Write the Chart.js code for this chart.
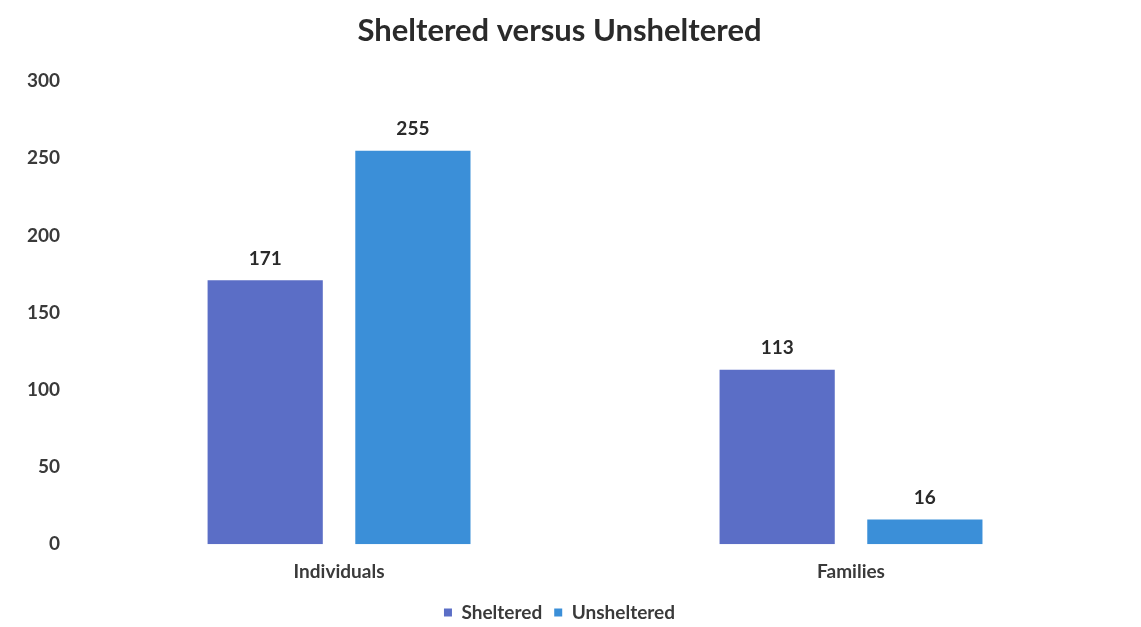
<!DOCTYPE html>
<html>
<head>
<meta charset="utf-8">
<script src="https://cdn.jsdelivr.net/npm/chart.js@4"></script>
<style>
    html, body { margin: 0; padding: 0; background: #fff; }
    #wrap { width: 1141px; height: 627px; }
</style>
</head>
<body>
<div id="wrap"><canvas id="chart"></canvas></div>
<script>
const categorias = ["Individuals", "Families"];
const abrigados = [171, 113];
const semAbrigo = [255, 16];
const series = ["Sheltered", "Unsheltered"];

/* rótulos em cima das barras */
const rotulos = {
    id: "rotulos",
    afterDatasetsDraw(chart) {
        const ctx = chart.ctx;
        ctx.save();
        ctx.font = "bold 19px Lato";
        ctx.fillStyle = "#2a2a2a";
        ctx.textAlign = "center";
        ctx.textBaseline = "bottom";
        chart.data.datasets.forEach((ds, i) => {
            chart.getDatasetMeta(i).data.forEach((bar, j) => {
                ctx.fillText(ds.data[j], bar.x, bar.y - 12);
            });
        });
        ctx.restore();
    }
};

new Chart(document.getElementById("chart"), {
    type: "bar",
    data: {
        labels: categorias,
        datasets: [
            { label: series[0], data: abrigados, backgroundColor: "#5b6ec6" },
            { label: series[1], data: semAbrigo, backgroundColor: "#3b8fd8" }
        ]
    },
    options: {
        responsive: true,
        maintainAspectRatio: false,
        animation: false,
        categoryPercentage: 0.577,
        barPercentage: 0.78,
        layout: { padding: { left: 12, right: 34, top: 2, bottom: -5 } },
        plugins: {
            title: {
                display: true,
                text: "Sheltered versus Unsheltered",
                color: "#2a2a2a",
                font: { family: "Lato", size: 31, weight: "bold" },
                padding: { top: 10, bottom: 32 }
            },
            legend: {
                position: "bottom",
                labels: {
                    color: "#3a3a3a",
                    font: { family: "Lato", size: 19, weight: "bold" },
                    boxWidth: 8,
                    boxHeight: 8,
                    padding: 12
                }
            },
            tooltip: { enabled: false }
        },
        scales: {
            x: {
                grid: { display: false },
                border: { display: false },
                ticks: { color: "#3a3a3a", font: { family: "Lato", size: 19, weight: "bold" }, padding: 8 }
            },
            y: {
                min: 0,
                max: 300,
                ticks: { stepSize: 50, color: "#3a3a3a", font: { family: "Lato", size: 19, weight: "bold" }, padding: 15 },
                grid: { display: false },
                border: { display: false }
            }
        }
    },
    plugins: [rotulos]
});
</script>
</body>
</html>
